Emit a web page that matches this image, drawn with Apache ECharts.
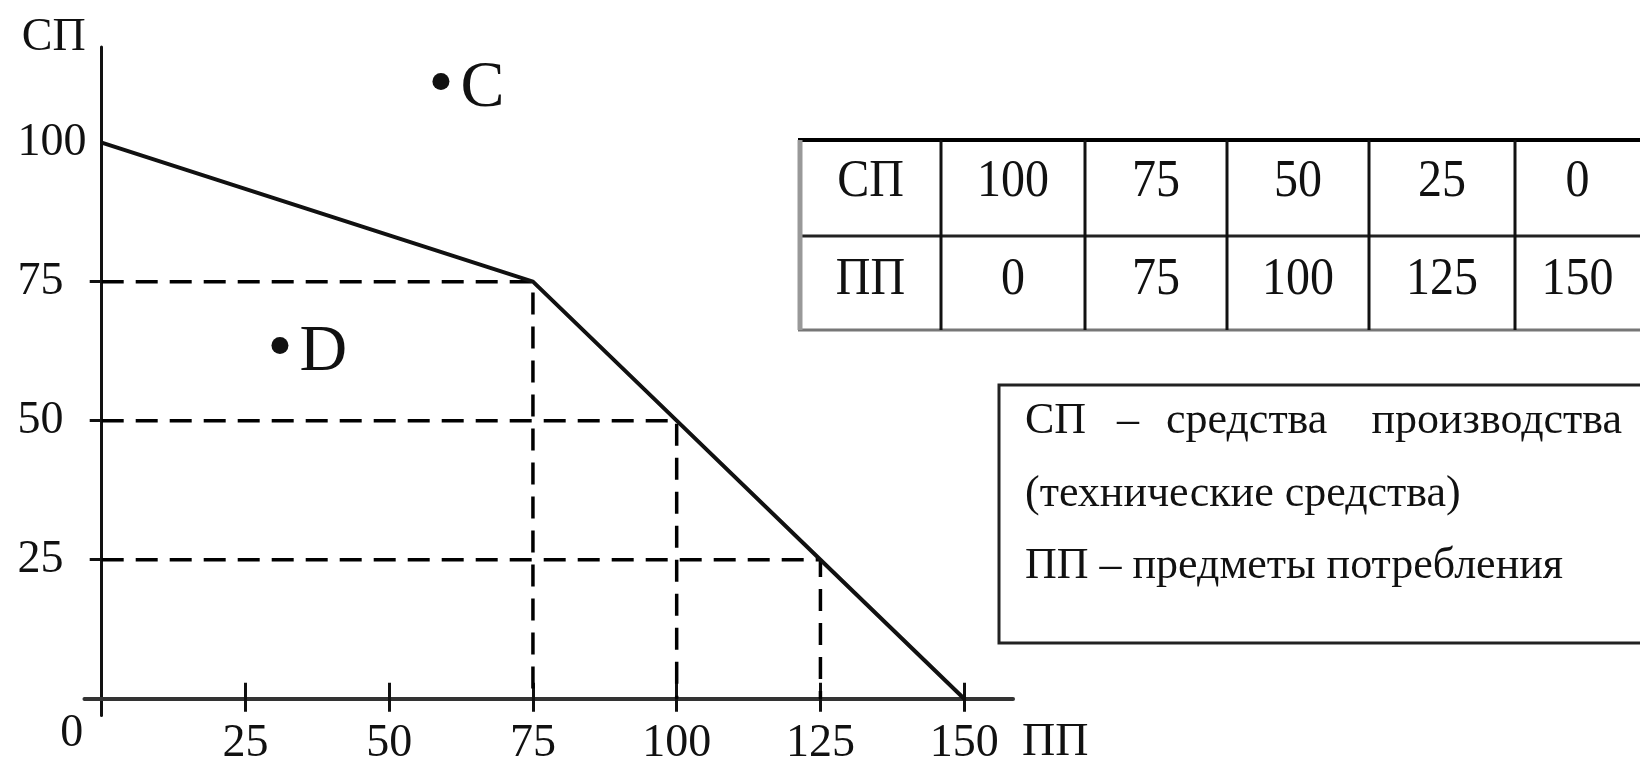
<!DOCTYPE html>
<html>
<head>
<meta charset="utf-8">
<title>КПВ</title>
<script src="https://cdn.jsdelivr.net/npm/echarts@6/dist/echarts.min.js"></script>
<style>
    html, body { margin: 0; padding: 0; background: #fff; }
    #chart { width: 1640px; height: 758px; }
</style>
</head>
<body>
<div id="chart"></div>
<script>
// таблица альтернатив: СП / ПП
const rowNames = ['СП', 'ПП'];
const spValues = [100, 75, 50, 25, 0];
const ppValues = [0, 75, 100, 125, 150];

// деления осей
const xTicks = [0, 25, 50, 75, 100, 125, 150];
const yLabels = [25, 50, 75, 100];
const yTicks = [25, 50, 75];

// точки C и D
const pointNames = ['C', 'D'];
const pointPP = [59, 31];
const pointSP = [111, 63.5];

const legendLines = [
    ['СП', '–', 'средства', 'производства'],
    ['(технические средства)'],
    ['ПП – предметы потребления']
];

const FONT = 'Liberation Serif';
const INK = '#111';

const chart = echarts.init(document.getElementById('chart'));

// кривая производственных возможностей
const curve = ppValues.map((x, i) => [x, spValues[i]]);

// пунктир: от оси СП до точки и вниз до оси ПП
const guides = curve
    .filter(p => p[0] > 0 && p[1] > 0)
    .map(p => ({
        type: 'line',
        xAxisIndex: 1,
        data: [[0, p[1]], [p[0], p[1]], [p[0], 0]],
        symbol: 'none',
        silent: true,
        z: 3,
        lineStyle: {color: '#000', width: 3.5, type: [22, 12]}
    }));

// таблица (графика)
const colEdges = [800, 941, 1085, 1227, 1369, 1515, 1640];
const rowEdges = [140, 236, 330];
const rowTextY = [182, 280];
const tableRows = [[rowNames[0]].concat(spValues), [rowNames[1]].concat(ppValues)];

const graphics = [];
tableRows.forEach((row, r) => {
    row.forEach((v, c) => {
        graphics.push({
            type: 'text',
            x: (colEdges[c] + colEdges[c + 1]) / 2,
            y: rowTextY[r],
            scaleY: 1.1,
            style: {
                x: 0, y: 0,
                text: String(v),
                font: '48px "' + FONT + '"',
                fill: INK,
                textAlign: 'center',
                textVerticalAlign: 'middle'
            }
        });
    });
});
// линии таблицы
graphics.push({type: 'line', shape: {x1: 798, y1: rowEdges[0], x2: 1640, y2: rowEdges[0]}, style: {stroke: '#000', lineWidth: 4}});
graphics.push({type: 'line', shape: {x1: 800, y1: rowEdges[1], x2: 1640, y2: rowEdges[1]}, style: {stroke: '#222', lineWidth: 3}});
graphics.push({type: 'line', shape: {x1: 798, y1: rowEdges[2], x2: 1640, y2: rowEdges[2]}, style: {stroke: '#777', lineWidth: 3}});
graphics.push({type: 'line', shape: {x1: 800, y1: rowEdges[0], x2: 800, y2: rowEdges[2]}, style: {stroke: '#999', lineWidth: 5}});
colEdges.slice(1, -1).forEach(x => {
    graphics.push({type: 'line', shape: {x1: x, y1: rowEdges[0], x2: x, y2: rowEdges[2]}, style: {stroke: '#111', lineWidth: 3}});
});

// пояснение в рамке
graphics.push({type: 'rect', shape: {x: 999, y: 385, width: 660, height: 258}, style: {fill: 'none', stroke: '#222', lineWidth: 3}});
const legendFont = '44px "' + FONT + '"';
const lineY = [421, 494, 566];
const line1X = [1025, 1128, 1166, 1622];
const line1Align = ['left', 'center', 'left', 'right'];
legendLines[0].forEach((w, i) => {
    graphics.push({
        type: 'text',
        style: {
            x: line1X[i], y: lineY[0], text: w, font: legendFont, fill: INK,
            textAlign: line1Align[i], textVerticalAlign: 'middle'
        }
    });
});
[1, 2].forEach(k => {
    graphics.push({
        type: 'text',
        style: {
            x: 1025, y: lineY[k], text: legendLines[k][0], font: legendFont, fill: INK,
            textAlign: 'left', textVerticalAlign: 'middle'
        }
    });
});

const axisFont = {fontFamily: FONT, fontSize: 46, color: INK};

// сетка: ноль оси СП на y = 698.75, нижний край сетки 715.4
const gridTop = 47, gridHeight = 668.4;
const yMin = -3, yMax = 117.2;
const zeroOffset = -(gridHeight * (0 - yMin) / (yMax - yMin));

const option = {
    backgroundColor: '#fff',
    animation: false,
    grid: {left: 84.45, top: gridTop, width: 928.6, height: gridHeight, containLabel: false, outerBoundsMode: 'none'},
    xAxis: [{
        type: 'value',
        min: -3,
        max: 158.5,
        splitLine: {show: false},
        name: 'ПП',
        nameLocation: 'end',
        nameGap: 9,
        nameTextStyle: {fontFamily: FONT, fontSize: 46, color: INK, align: 'left', verticalAlign: 'top', padding: [21, 0, 0, 0]},
        axisLine: {onZero: true, lineStyle: {color: '#333', width: 4}},
        axisTick: {show: true, inside: false, length: 13, customValues: xTicks.slice(1), lineStyle: {color: INK, width: 3}},
        axisLabel: Object.assign({
            customValues: xTicks,
            margin: 6,
            formatter: v => v === 0 ? '{o|0}' : String(v),
            rich: {o: {fontFamily: FONT, fontSize: 46, color: INK, lineHeight: 26, padding: [0, 60, 0, 0]}}
        }, axisFont)
    }, {
        // второй экземпляр оси ПП: засечки вверх от оси
        type: 'value',
        min: -3,
        max: 158.5,
        position: 'bottom',
        offset: zeroOffset,
        splitLine: {show: false},
        axisLine: {show: true, onZero: false, lineStyle: {color: 'rgba(0,0,0,0)', width: 1}},
        axisTick: {show: true, inside: true, length: 16, customValues: xTicks.slice(1), lineStyle: {color: INK, width: 3}},
        axisLabel: {show: true, customValues: xTicks.slice(1), formatter: () => '', fontSize: 1}
    }],
    yAxis: {
        type: 'value',
        min: yMin,
        max: yMax,
        splitLine: {show: false},
        name: 'СП',
        nameLocation: 'end',
        nameGap: 9,
        nameTextStyle: {fontFamily: FONT, fontSize: 46, color: INK, align: 'right', verticalAlign: 'middle', padding: [0, 16, 0, 0]},
        axisLine: {onZero: true, lineStyle: {color: INK, width: 3}},
        axisTick: {show: true, inside: false, length: 12, customValues: yTicks, lineStyle: {color: INK, width: 3}},
        axisLabel: Object.assign({customValues: yLabels, align: 'left', margin: 67}, axisFont)
    },
    graphic: graphics,
    series: [{
        name: 'КПВ',
        type: 'line',
        data: curve,
        symbol: 'none',
        z: 5,
        lineStyle: {color: INK, width: 4}
    }].concat(guides).concat([{
        name: 'точки',
        type: 'scatter',
        symbolSize: 17,
        itemStyle: {color: INK, opacity: 1},
        data: pointNames.map((n, i) => ({name: n, value: [pointPP[i], pointSP[i]]})),
        label: {
            show: true,
            position: 'right',
            distance: 11,
            offset: [0, 7],
            formatter: p => p.name,
            fontFamily: FONT,
            fontSize: 66,
            color: INK
        }
    }])
};

chart.setOption(option);
</script>
</body>
</html>
